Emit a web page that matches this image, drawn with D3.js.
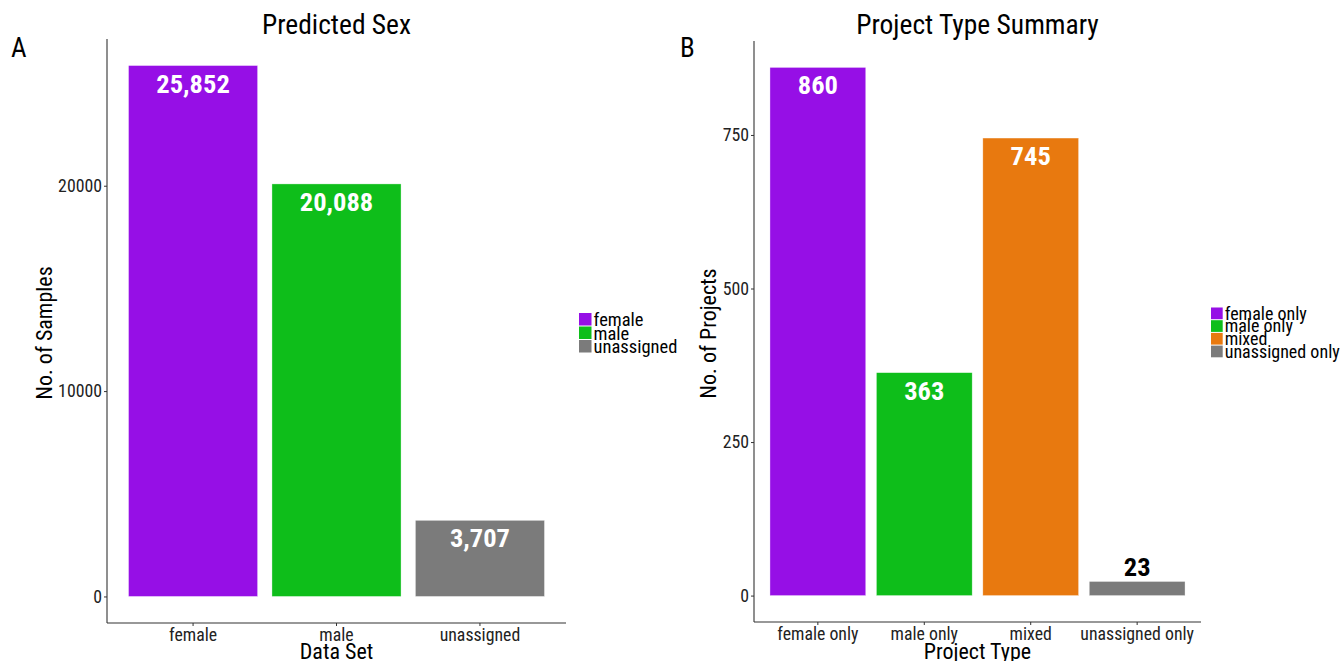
<!DOCTYPE html>
<html>
<head>
<meta charset="utf-8">
<script src="https://cdn.jsdelivr.net/npm/d3@7"></script>
<style>
  body { margin: 0; background: #fff; }
  svg text { font-family: "Roboto Condensed", "Liberation Sans Narrow", "DejaVu Sans Condensed", sans-serif; }
</style>
</head>
<body>
<div id="chart"></div>
<script>
// panel A data
let sexCategories = ['female', 'male', 'unassigned']
let sexValues     = [25852, 20088, 3707]
let sexTicks      = [0, 10000, 20000]
let sexColors     = ['#960fe6', '#0ebe1a', '#7b7b7b']

// panel B data
let typeCategories = ['female only', 'male only', 'mixed', 'unassigned only']
let typeValues     = [860, 363, 745, 23]
let typeTicks      = [0, 250, 500, 750]
let typeColors     = ['#960fe6', '#0ebe1a', '#e8790f', '#7b7b7b']

let width = 1342, height = 661

let svg = d3.select('#chart')
            .append('svg')
                .attr('width', width)
                .attr('height', height)

function drawPanel(p){
    let g = svg.append('g')

    // ggplot style 5% expansion on the y range
    let max = d3.max(p.values)
    let y = d3.scaleLinear()
              .domain([-max*0.05, max*1.05])
              .range([p.bottom, p.top])

    let x = d3.scaleBand()
              .domain(p.categories)
              .range([p.left, p.right])
              .paddingInner(0.1)
              .paddingOuter(0.15)

    // axes
    let yAxis = d3.axisLeft(y).tickValues(p.ticks).tickSize(3).tickFormat(d3.format('d'))
    let gy = g.append('g').attr('transform', `translate(${p.left},0)`).call(yAxis)
    let xAxis = d3.axisBottom(x).tickSize(3)
    let gx = g.append('g').attr('transform', `translate(0,${p.bottom})`).call(xAxis)

    ;[gx, gy].forEach(a => {
        a.select('.domain').attr('stroke', '#333').attr('stroke-width', 1.1)
        a.selectAll('.tick line').attr('stroke', '#333')
        a.selectAll('.tick text').attr('fill', '#222').style('font-size', '17.8px')
    })
    gy.select('.domain').attr('d', `M0,${p.top}V${p.bottom}`)
    gx.select('.domain').attr('d', `M${p.left},0H${p.right}`)
    gy.selectAll('.tick text').attr('x', -5)
    gx.selectAll('.tick text').attr('y', 5)

    // bars
    g.selectAll('.bar')
        .data(p.values)
        .enter()
        .append('rect')
        .attr('x', (d,i) => x(p.categories[i]))
        .attr('width', x.bandwidth())
        .attr('y', d => y(d))
        .attr('height', d => y(0) - y(d))
        .attr('fill', (d,i) => p.colors[i])
        .attr('stroke', 'rgba(255,255,255,0.6)')
        .attr('stroke-width', 0.6)

    // value labels - inside the bar, above it when the bar is too short
    g.selectAll('.val')
        .data(p.values)
        .enter()
        .append('text')
        .attr('x', (d,i) => x(p.categories[i]) + x.bandwidth()/2)
        .attr('y', d => (y(0) - y(d) > 40) ? y(d) + 27 : y(d) - 5)
        .attr('text-anchor', 'middle')
        .attr('fill', d => (y(0) - y(d) > 40) ? '#fff' : '#000')
        .style('font-size', '26.5px')
        .style('font-weight', 'bold')
        .text(d => d3.format(',')(d))

    // titles
    let mid = (p.left + p.right)/2
    g.append('text').attr('x', mid).attr('y', 34).attr('text-anchor', 'middle')
        .style('font-size', '27.5px').text(p.title)
    g.append('text').attr('x', p.tagX).attr('y', 57)
        .style('font-size', '27px').text(p.tag)
    g.append('text').attr('x', mid).attr('y', 659).attr('text-anchor', 'middle')
        .style('font-size', '22px').text(p.xTitle)
    g.append('text')
        .attr('transform', `translate(${p.yTitleX},${(p.top + p.bottom)/2 + 2}) rotate(-90)`)
        .attr('text-anchor', 'middle')
        .style('font-size', '22px').text(p.yTitle)

    // legend
    let lg = g.append('g').attr('transform', `translate(${p.legendX},${p.legendY})`)
    p.categories.forEach((c,i) => {
        lg.append('rect').attr('x', 0).attr('y', i*p.legendStep)
          .attr('width', p.legendStep - 1).attr('height', p.legendStep - 1)
          .attr('fill', p.colors[i])
        lg.append('text').attr('x', p.legendStep + 1).attr('y', i*p.legendStep + p.legendStep - 0.5)
          .style('font-size', p.legendFont).text(c)
    })
}

drawPanel({
    categories: sexCategories, values: sexValues, ticks: sexTicks, colors: sexColors,
    left: 107, right: 566, top: 39, bottom: 623,
    title: 'Predicted Sex', tag: 'A', tagX: 11,
    xTitle: 'Data Set', yTitle: 'No. of Samples', yTitleX: 52,
    legendX: 579, legendY: 313, legendStep: 13.5, legendFont: '18.5px'
})

drawPanel({
    categories: typeCategories, values: typeValues, ticks: typeTicks, colors: typeColors,
    left: 754, right: 1201, top: 41, bottom: 622,
    title: 'Project Type Summary', tag: 'B', tagX: 680,
    xTitle: 'Project Type', yTitle: 'No. of Projects', yTitleX: 716,
    legendX: 1211, legendY: 307.5, legendStep: 12.7, legendFont: '18px'
})
</script>
</body>
</html>
